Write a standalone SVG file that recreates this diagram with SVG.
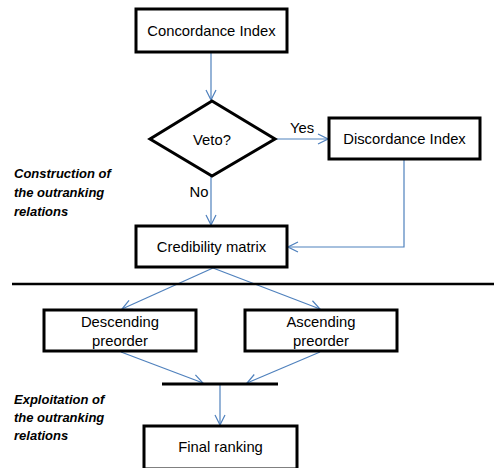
<svg xmlns="http://www.w3.org/2000/svg" width="494" height="468" viewBox="0 0 494 468">
<style>
.box{fill:#fff;stroke:#000;stroke-width:3}
.t{font-family:"Liberation Sans",Arial,sans-serif;font-size:14.8px;fill:#000;text-anchor:middle;dominant-baseline:central}
.side{font-family:"Liberation Sans",Arial,sans-serif;font-size:13px;font-weight:bold;font-style:italic;fill:#000}
.c{fill:none;stroke:#4f81bd;stroke-width:1.2}
</style>
<defs>
<marker id="ah" viewBox="0 0 12 12" refX="11" refY="6" markerWidth="12" markerHeight="12" markerUnits="userSpaceOnUse" orient="auto">
<path d="M1,1 L11,6 L1,11" fill="none" stroke="#4f81bd" stroke-width="1.2"/>
</marker>
</defs>
<g id="connectors">
<line class="c" x1="211" y1="52" x2="211" y2="100" marker-end="url(#ah)"/>
<line class="c" x1="275" y1="139" x2="328" y2="139" marker-end="url(#ah)"/>
<line class="c" x1="211" y1="176" x2="211" y2="225" marker-end="url(#ah)"/>
<polyline class="c" points="404,159 404,247 288,247" marker-end="url(#ah)"/>
<line class="c" x1="213" y1="268" x2="122" y2="309" marker-end="url(#ah)"/>
<line class="c" x1="213" y1="268" x2="320" y2="309" marker-end="url(#ah)"/>
<line class="c" x1="121" y1="352" x2="203" y2="383" marker-end="url(#ah)"/>
<line class="c" x1="320" y1="352" x2="247" y2="383" marker-end="url(#ah)"/>
<line class="c" x1="220" y1="385" x2="220" y2="425" marker-end="url(#ah)"/>
</g>
<g id="separator"><line x1="12" y1="284" x2="494" y2="284" stroke="#000" stroke-width="2.5"/></g>
<g id="concordance"><rect class="box" x="136" y="9" width="151" height="43"/><text class="t" x="211.5" y="31">Concordance Index</text></g>
<g id="veto"><polygon class="box" points="212,101 275,139 212,176 150,139"/><text class="t" x="212" y="140">Veto?</text></g>
<g id="discordance"><rect class="box" x="329" y="118" width="151" height="41"/><text class="t" x="404.5" y="139">Discordance Index</text></g>
<g id="credibility"><rect class="box" x="136" y="226" width="151" height="41"/><text class="t" x="211.5" y="247">Credibility matrix</text></g>
<g id="descending"><rect class="box" x="44" y="310" width="152" height="41"/><text class="t" x="120" y="322">Descending</text><text class="t" x="120" y="341">preorder</text></g>
<g id="ascending"><rect class="box" x="245" y="310" width="152" height="41"/><text class="t" x="321" y="322">Ascending</text><text class="t" x="321" y="341">preorder</text></g>
<g id="join"><line x1="162" y1="384" x2="278" y2="384" stroke="#000" stroke-width="3"/></g>
<g id="final"><rect class="box" x="144" y="426" width="153" height="43"/><text class="t" x="220.5" y="447">Final ranking</text></g>
<g id="labels">
<text class="t" x="302" y="128">Yes</text>
<text class="t" x="199" y="192">No</text>
<text class="side" x="14" y="178">Construction of</text>
<text class="side" x="14" y="197">the outranking</text>
<text class="side" x="14" y="216">relations</text>
<text class="side" x="14" y="404">Exploitation of</text>
<text class="side" x="14" y="422">the outranking</text>
<text class="side" x="14" y="440">relations</text>
</g>
</svg>
